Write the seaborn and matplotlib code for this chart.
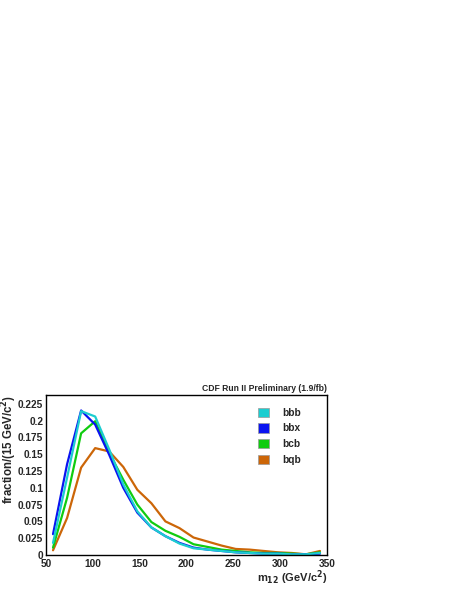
import pandas as pd
import matplotlib
matplotlib.use("Agg")
import matplotlib.pyplot as plt
from matplotlib.patches import Patch
from matplotlib.ticker import MultipleLocator
import seaborn as sns

# ------------------------------------------------------------
# Data (bin centres of 15 GeV bins)
# ------------------------------------------------------------
m12 = [57.5, 72.5, 87.5, 102.5, 117.5, 132.5, 147.5, 162.5, 177.5, 192.5,
       207.5, 222.5, 237.5, 252.5, 267.5, 282.5, 297.5, 312.5, 327.5, 342.5]

bbb = [0.018, 0.115, 0.214, 0.206, 0.157, 0.105, 0.065, 0.041, 0.028, 0.017,
       0.010, 0.008, 0.006, 0.004, 0.003, 0.002, 0.002, 0.001, 0.001, 0.003]
bbx = [0.031, 0.135, 0.215, 0.194, 0.149, 0.100, 0.063, 0.041, 0.028, 0.018,
       0.011, 0.008, 0.006, 0.004, 0.003, 0.002, 0.002, 0.001, 0.001, 0.002]
bcb = [0.011, 0.085, 0.181, 0.199, 0.152, 0.112, 0.075, 0.049, 0.036, 0.027,
       0.016, 0.012, 0.008, 0.006, 0.004, 0.003, 0.003, 0.002, 0.001, 0.004]
bqb = [0.007, 0.055, 0.130, 0.159, 0.154, 0.131, 0.097, 0.077, 0.050, 0.040,
       0.026, 0.020, 0.014, 0.009, 0.008, 0.006, 0.004, 0.003, 0.001, 0.006]

samples = ["bbb", "bbx", "bcb", "bqb"]
colors = {"bbb": "#1ccdd0", "bbx": "#0a14f0", "bcb": "#10cc10", "bqb": "#cc6608"}

# long-form table for seaborn
frames = []
for name, vals in zip(samples, [bbb, bbx, bcb, bqb]):
    frames.append(pd.DataFrame({"m12": m12, "fraction": vals, "sample": name}))
df = pd.concat(frames, ignore_index=True)

# ------------------------------------------------------------
# Plot
# ------------------------------------------------------------
sns.set_style("white")
plt.rcParams["font.family"] = ["Liberation Sans", "DejaVu Sans"]
plt.rcParams["font.weight"] = "bold"

W, H = 456, 590
fig = plt.figure(figsize=(W / 100, H / 100), dpi=100)
ax = fig.add_axes([46 / W, 35 / H, 281 / W, 160 / H])

draw_order = ["bqb", "bcb", "bbx", "bbb"]
for name in draw_order:
    sns.lineplot(data=df[df["sample"] == name], x="m12", y="fraction",
                 color=colors[name], linewidth=1.6, ax=ax, legend=False)

ax.set_xlim(50, 350)
ax.set_ylim(0, 0.238)
ax.xaxis.set_major_locator(MultipleLocator(50))
ax.xaxis.set_minor_locator(MultipleLocator(10))
ax.yaxis.set_major_locator(MultipleLocator(0.025))
ax.yaxis.set_minor_locator(MultipleLocator(0.005))
ax.set_yticks(ax.get_yticks())
ax.set_yticklabels(["0" if t == 0 else f"{t:g}" for t in ax.get_yticks()])
ax.set_ylim(0, 0.238)

ax.tick_params(axis="both", which="both", direction="in", top=False, right=False,
               labelsize=7.3, width=0.8)
ax.tick_params(axis="x", which="major", pad=3)
ax.tick_params(axis="y", which="major", pad=2)
ax.tick_params(axis="both", which="major", length=5)
ax.tick_params(axis="both", which="minor", length=2.5)
for lbl in ax.get_xticklabels() + ax.get_yticklabels():
    lbl.set_fontweight("bold")
for sp in ax.spines.values():
    sp.set_linewidth(1.0)
    sp.set_color("black")

ax.set_xlabel("")
ax.set_ylabel("")
fig.text(327 / W, 1 - 587 / H, "m$_{12}$ (GeV/c$^{2}$)", ha="right", va="bottom",
         fontsize=8, fontweight="bold")
fig.text(9.5 / W, 1 - 395 / H, "fraction/(15 GeV/c$^{2}$)", rotation=90,
         ha="center", va="top", fontsize=8.3, fontweight="bold")

ax.text(1.0, 1.015, "CDF Run II Preliminary (1.9/fb)", transform=ax.transAxes,
        ha="right", va="bottom", fontsize=6.2, fontweight="bold")

handles = [Patch(facecolor=colors[s], edgecolor="#999999", linewidth=0.5, label=s)
           for s in samples]
leg = ax.legend(handles=handles, loc="upper left", bbox_to_anchor=(0.74, 0.945),
                frameon=False, fontsize=7.3, handlelength=1.1, handleheight=1.0,
                handletextpad=1.3, labelspacing=0.55, borderaxespad=0)
for t in leg.get_texts():
    t.set_fontweight("bold")

fig.savefig("out.png", dpi=100)
